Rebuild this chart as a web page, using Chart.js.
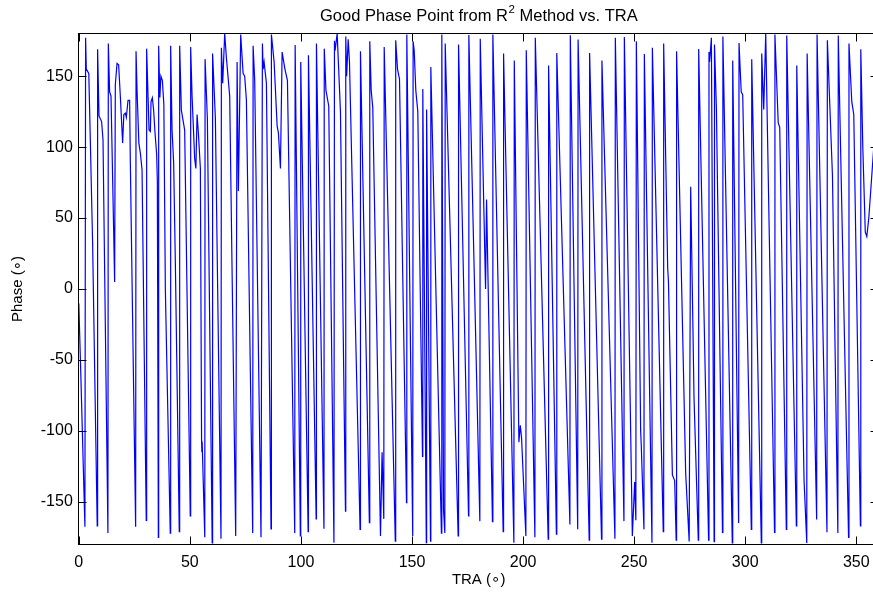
<!DOCTYPE html>
<html>
<head>
<meta charset="utf-8">
<title>Good Phase Point from R2 Method vs. TRA</title>
<script src="https://cdn.jsdelivr.net/npm/chart.js@4.4.1/dist/chart.umd.min.js"></script>
<style>
  html, body { margin: 0; padding: 0; background: #fff; overflow: hidden; }
  /* axes box runs a few px past the right edge of the window */
  #wrap { position: absolute; left: 0; top: 0; width: 886px; height: 595px; }
</style>
</head>
<body>
<div id="wrap"><canvas id="phaseChart"></canvas></div>
<script>
// TRA (deg) and wrapped phase (deg) of the good phase point
const traDeg = [
  0, 0.90, 2.75, 3.06, 3.38, 4.50, 5.18, 6.22, 8.29, 8.47,
  9.10, 10.27, 10.90, 13.11, 13.29, 13.87, 14.50, 15.68, 16.13, 16.44,
  17.21, 17.93, 18.69, 19.73, 20.27, 20.95, 21.40, 22.16, 22.88, 23.20,
  25.59, 25.77, 26.22, 27.03, 27.70, 28.47, 30.36, 30.54, 31.17, 31.62,
  32.21, 32.52, 33.11, 33.69, 34.32, 35.05, 35.36, 35.81, 35.95, 36.49,
  36.94, 37.61, 38.29, 38.96, 41.17, 41.35, 41.98, 42.70, 43.47, 45.23,
  45.41, 46.17, 47.66, 50.18, 50.36, 50.99, 52.16, 52.70, 53.24, 53.83,
  54.73, 55.27, 55.41, 55.54, 56.71, 56.85, 57.88, 60.05, 60.23, 61.49,
  64.01, 64.19, 64.78, 65.68, 66.44, 67.93, 70.63, 71.26, 71.85, 72.88,
  73.96, 74.68, 75.45, 78.29, 78.47, 79.19, 82.03, 82.66, 82.97, 83.42,
  84.46, 86.53, 86.71, 87.93, 89.28, 89.86, 90.77, 91.53, 92.79, 93.92,
  97.21, 97.39, 99.73, 99.91, 103.24, 103.38, 106.85, 106.98, 110.36, 110.50,
  111.26, 112.52, 114.86, 115.09, 115.36, 116.31, 117.79, 120.05, 120.18, 120.59,
  121.26, 121.85, 126.62, 126.80, 130.81, 130.99, 131.62, 132.34, 135.81, 136.53,
  136.94, 137.30, 137.48, 142.48, 142.66, 143.47, 144.37, 147.52, 147.66, 150.32,
  150.50, 150.99, 151.71, 152.61, 154.73, 154.86, 156.44, 156.58, 158.33, 158.47,
  163.24, 163.42, 164.19, 164.77, 164.95, 170.77, 170.95, 175.45, 175.59, 180.54,
  180.72, 183.11, 183.56, 186.22, 186.40, 191.04, 191.22, 195.86, 196.04, 198.11,
  198.74, 199.32, 201.26, 201.44, 205.32, 205.50, 211.31, 211.49, 215.00, 215.18,
  221.08, 221.26, 224.59, 224.77, 229.77, 229.95, 235.32, 235.50, 241.35, 241.53,
  245.41, 245.59, 249.19, 250.23, 250.77, 250.99, 252.93, 253.20, 254.41, 254.59,
  258.02, 258.20, 263.11, 263.29, 265.09, 265.45, 267.21, 268.24, 268.92, 269.10,
  273.20, 274.77, 275.45, 276.49, 276.94, 278.87, 279.05, 283.51, 283.69, 283.96,
  284.77, 286.00, 286.17, 287.03, 289.77, 289.95, 294.19, 294.37, 297.03, 297.21,
  298.20, 298.87, 302.75, 302.93, 307.25, 307.43, 308.33, 309.23, 313.20, 313.38,
  314.86, 315.54, 318.51, 318.69, 323.02, 323.20, 326.49, 327.71, 327.88, 332.16,
  332.34, 336.80, 336.98, 339.28, 341.71, 341.89, 346.53, 346.71, 347.97, 348.87,
  351.85, 352.03, 352.93, 354.05, 354.73, 355.63, 357.88, 360
];

const phaseDeg = [
  -10, -60, -167.5, 177, 155, 152, 105, 32, -167, 169,
  122, 118, 105, -172, 173, 139, 136, 42, 5, 144,
  159, 158, 136, 103, 123, 124, 121, 133, 133, 89,
  -167.5, 167.5, 140, 103, 96, 84, -163, 169.4, 136, 112,
  111, 132, 134.7, 126, 110, 95, 76, -175, 171.5, 135,
  150, 147, 130, 0, -172, 171.5, 112, 89, 18, -171,
  171.5, 126, 112, -160, 170.6, 136, 92, 85, 123, 110,
  85, -107, -115, -108, -175, 162, 120, -179, 166, 120,
  -176, 170, 145, 180, 163, 136, -174, 160, 69, 179.3,
  152, 150, 133, -172, 171.5, 147, -175, 173, 155, 160,
  145, -169, 179.3, 160, 115, 110, 85, 167, 155, 147,
  -172, 172, -174, 160, -171, 164.7, -162, 173, -169, 169.4,
  140, 129, -178.8, 175, 168, 180, 125, -156.5, 178, 150,
  176, 160, -169.4, 167.5, -164.7, 174.6, 140, 128, -174, -115,
  -115, -162, 170.6, -177.7, 175.3, 155, 148, -150.6, 179.3, -174,
  174.6, 168, 140, 125, -118, 141, -178.8, 126.5, -177.7, 156.5,
  -172, 179.3, -156, -172, 173, -174, 172.3, -160, 179, -163.6,
  176.3, 0, 63, -164, 179.3, -171, 166, -178.8, 161, -108,
  -96, -105, -174, 168.3, -175, 177, -176.3, 157.5, -172.8, 166.4,
  -166, 178.8, -169.4, 175.8, -177, 166.4, -176.3, 161, -176, 177,
  -163.6, 177.6, -174, -136, -163, 174.6, -100, -110, -169.4, 165.7,
  -178.8, 170, -171, 173, 15, 5, -131, -135, -177, 167.5,
  -130, -178, 72, -30, -76, -177, 169.2, -177, 167, 160,
  177, -178, 172.3, 127, -171.5, 178, -179, 161, -165, 173.4,
  139, 137, -169.4, 162, -179, 166, 126.5, 180, -171.5, 179.3,
  117, 114, -169.4, 178.6, -167, 157.5, -135, -179, 166, -162.5,
  179.3, -171.5, 175.3, 79.5, -172, 178.6, -175, 173, 132, 123,
  -167, 169, 100, 40, 37, 50, 100, 140
];

const xTicks = [0, 50, 100, 150, 200, 250, 300, 350];
const yTicks = [-150, -100, -50, 0, 50, 100, 150];

const titleMain = 'Good Phase Point from R';
const titleSup = '2';
const titleRest = ' Method vs. TRA';
const xTitle = 'TRA (\u2218)';
const yTitle = 'Phase (\u2218)';

// plot box in canvas pixels
const BOX = { left: 78.8, top: 33.6, right: 878.5, bottom: 544.4 };
const CANVAS_W = 886;
const CANVAS_H = 595;

const FONT = '"Liberation Sans", Arial, "DejaVu Sans", sans-serif';

const points = traDeg.map((t, i) => ({ x: t, y: phaseDeg[i] }));

// box, inward tick marks and all titles, MATLAB style
const axesFrame = {
  id: 'axesFrame',
  afterDatasetsDraw(chart) {
    const { ctx, chartArea: a, scales: { x, y } } = chart;
    const l = Math.floor(a.left) + 0.5;
    const r = Math.floor(a.right) + 0.5;
    const t = Math.floor(a.top) + 0.5;
    const b = Math.floor(a.bottom) + 0.5;
    ctx.save();
    ctx.strokeStyle = '#000';
    ctx.lineWidth = 1;
    ctx.strokeRect(l, t, r - l, b - t);

    ctx.beginPath();
    xTicks.forEach(v => {
      const px = Math.round(x.getPixelForValue(v)) + 0.5;
      ctx.moveTo(px, b); ctx.lineTo(px, b - 8);
      ctx.moveTo(px, t); ctx.lineTo(px, t + 8);
    });
    yTicks.forEach(v => {
      const py = Math.round(y.getPixelForValue(v)) + 0.5;
      ctx.moveTo(l, py); ctx.lineTo(l + 8, py);
      ctx.moveTo(r, py); ctx.lineTo(r - 8, py);
    });
    ctx.stroke();

    ctx.fillStyle = '#000';
    const cx = (a.left + a.right) / 2;

    // title with superscript
    ctx.font = '16.5px ' + FONT;
    const w1 = ctx.measureText(titleMain).width;
    const w3 = ctx.measureText(titleRest).width;
    ctx.font = '11.5px ' + FONT;
    const w2 = ctx.measureText(titleSup).width;
    let tx = cx - (w1 + w2 + w3) / 2;
    ctx.textBaseline = 'alphabetic';
    ctx.textAlign = 'left';
    ctx.font = '16.5px ' + FONT;
    ctx.fillText(titleMain, tx, 21);
    tx += w1;
    ctx.font = '11.5px ' + FONT;
    ctx.fillText(titleSup, tx + 0.5, 13);
    tx += w2 + 0.5;
    ctx.font = '16.5px ' + FONT;
    ctx.fillText(titleRest, tx, 21);

    // axis titles
    ctx.font = '15px ' + FONT;
    ctx.textAlign = 'center';
    ctx.textBaseline = 'middle';
    ctx.fillText(xTitle, cx, 580);
    ctx.translate(18, (a.top + a.bottom) / 2);
    ctx.rotate(-Math.PI / 2);
    ctx.fillText(yTitle, 0, 0);
    ctx.restore();
  }
};

const ctx = document.getElementById('phaseChart').getContext('2d');
new Chart(ctx, {
  type: 'line',
  data: {
    datasets: [{
      data: points,
      borderColor: '#0000ff',
      borderWidth: 1.2,
      pointRadius: 0,
      tension: 0,
      fill: false
    }]
  },
  options: {
    responsive: true,
    maintainAspectRatio: false,
    animation: false,
    events: [],
    layout: {
      padding: { left: 0, top: BOX.top, right: CANVAS_W - BOX.right, bottom: 0 }
    },
    plugins: {
      legend: { display: false },
      title: { display: false },
      tooltip: { enabled: false }
    },
    scales: {
      x: {
        type: 'linear',
        min: 0,
        max: 360,
        grid: { display: false, drawTicks: false },
        border: { display: false },
        afterBuildTicks: s => { s.ticks = xTicks.map(v => ({ value: v })); },
        afterFit: s => { s.height = CANVAS_H - BOX.bottom; },
        ticks: {
          padding: 9,
          maxRotation: 0,
          color: '#000',
          font: { family: FONT, size: 16 }
        }
      },
      y: {
        type: 'linear',
        min: -180,
        max: 180,
        grid: { display: false, drawTicks: false },
        border: { display: false },
        afterBuildTicks: s => { s.ticks = yTicks.map(v => ({ value: v })); },
        afterFit: s => { s.width = BOX.left; },
        ticks: {
          padding: 6,
          color: '#000',
          font: { family: FONT, size: 16 }
        }
      }
    }
  },
  plugins: [axesFrame]
});
</script>
</body>
</html>
